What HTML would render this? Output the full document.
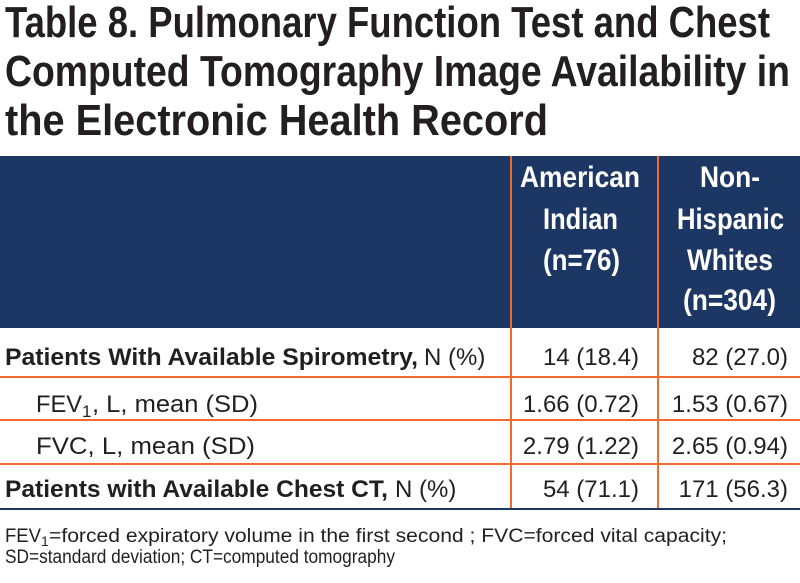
<!DOCTYPE html>
<html><head><meta charset="utf-8"><style>
html,body{margin:0;padding:0;background:#fff;width:800px;height:583px;overflow:hidden}
svg{display:block}
text{font-family:"Liberation Sans",Arial,sans-serif}
</style></head><body>
<svg width="800" height="583" viewBox="0 0 800 583">
<g font-weight="bold" font-size="44" fill="#231f20">
<text x="5" y="37" textLength="765" lengthAdjust="spacingAndGlyphs">Table 8. Pulmonary Function Test and Chest</text>
<text x="5" y="86" textLength="785" lengthAdjust="spacingAndGlyphs">Computed Tomography Image Availability in</text>
<text x="5" y="135" textLength="543" lengthAdjust="spacingAndGlyphs">the Electronic Health Record</text>
</g>
<rect x="0" y="156" width="800" height="172" fill="#1d3764"/>
<g font-weight="bold" font-size="30" fill="#fff">
<text x="520" y="187" textLength="120" lengthAdjust="spacingAndGlyphs">American</text>
<text x="543" y="229" textLength="75" lengthAdjust="spacingAndGlyphs">Indian</text>
<text x="543" y="270" textLength="77" lengthAdjust="spacingAndGlyphs">(n=76)</text>
<text x="700" y="187" textLength="60" lengthAdjust="spacingAndGlyphs">Non-</text>
<text x="677" y="229" textLength="107" lengthAdjust="spacingAndGlyphs">Hispanic</text>
<text x="687" y="270" textLength="86" lengthAdjust="spacingAndGlyphs">Whites</text>
<text x="683" y="310" textLength="93" lengthAdjust="spacingAndGlyphs">(n=304)</text>
</g>
<g stroke="#f26a2e" stroke-width="2">
<line x1="511" y1="156" x2="511" y2="509"/>
<line x1="658" y1="156" x2="658" y2="509"/>
<line x1="0" y1="377" x2="800" y2="377"/>
<line x1="0" y1="420" x2="800" y2="420"/>
<line x1="0" y1="464" x2="800" y2="464"/>
</g>
<line x1="0" y1="509" x2="800" y2="509" stroke="#1d3764" stroke-width="2"/>
<g font-size="24" fill="#231f20">
<text x="5" y="365" font-weight="bold" textLength="413" lengthAdjust="spacingAndGlyphs">Patients With Available Spirometry,</text>
<text x="424" y="365">N (%)</text>
<text x="36" y="412" textLength="46" lengthAdjust="spacingAndGlyphs">FEV</text>
<text x="82" y="417" font-size="17">1</text>
<text x="92" y="412" textLength="166" lengthAdjust="spacingAndGlyphs">, L, mean (SD)</text>
<text x="36" y="454" textLength="219" lengthAdjust="spacingAndGlyphs">FVC, L, mean (SD)</text>
<text x="5" y="497" font-weight="bold" textLength="383" lengthAdjust="spacingAndGlyphs">Patients with Available Chest CT,</text>
<text x="395" y="497">N (%)</text>
</g>
<g font-size="24" fill="#231f20" text-anchor="end">
<text x="639" y="365">14 (18.4)</text>
<text x="639" y="412">1.66 (0.72)</text>
<text x="639" y="454">2.79 (1.22)</text>
<text x="639" y="497">54 (71.1)</text>
</g>
<g font-size="24" fill="#231f20" text-anchor="end">
<text x="788" y="365">82 (27.0)</text>
<text x="788" y="412">1.53 (0.67)</text>
<text x="788" y="454">2.65 (0.94)</text>
<text x="788" y="497">171 (56.3)</text>
</g>
<g font-size="19" fill="#231f20">
<text x="5" y="542" textLength="36" lengthAdjust="spacingAndGlyphs">FEV</text>
<text x="41" y="546" font-size="14">1</text>
<text x="49" y="542" textLength="678" lengthAdjust="spacingAndGlyphs">=forced expiratory volume in the first second ; FVC=forced vital capacity;</text>
<text x="5" y="563" textLength="390" lengthAdjust="spacingAndGlyphs">SD=standard deviation; CT=computed tomography</text>
</g>
</svg>
</body></html>
